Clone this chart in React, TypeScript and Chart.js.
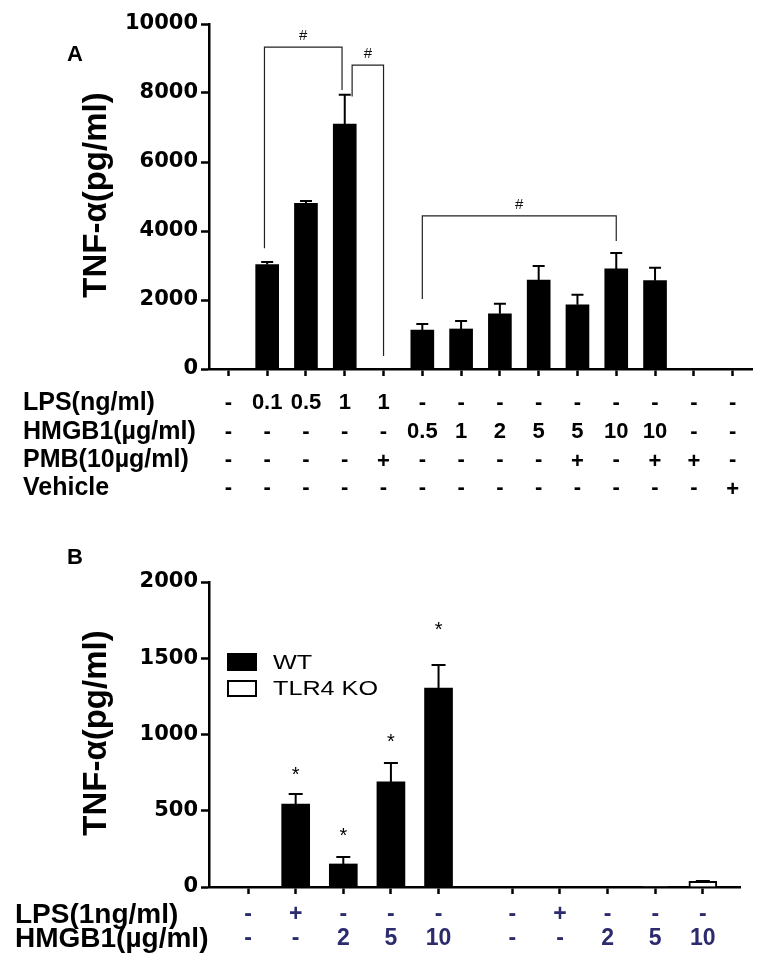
import React, { useEffect, useRef } from 'react';
import { Chart, registerables } from 'chart.js';
Chart.register(...registerables);

// ---------- Panel A data ----------
const aCategories = ['ctrl', 'LPS 0.1', 'LPS 0.5', 'LPS 1', 'LPS 1+PMB', 'HMGB1 0.5', 'HMGB1 1', 'HMGB1 2', 'HMGB1 5', 'HMGB1 5+PMB', 'HMGB1 10', 'HMGB1 10+PMB', 'PMB', 'Vehicle'];
const aValues = [0, 3030, 4800, 7100, 0, 1130, 1160, 1600, 2580, 1860, 2900, 2560, 0, 0];
const aErrors = [0, 70, 70, 850, 0, 175, 230, 290, 405, 290, 460, 375, 0, 0];
const aTicks = [0, 2000, 4000, 6000, 8000, 10000];
const aRowLabels = ['LPS(ng/ml)', 'HMGB1(\u00b5g/ml)', 'PMB(10\u00b5g/ml)', 'Vehicle'];
const aRowLPS = ['-', '0.1', '0.5', '1', '1', '-', '-', '-', '-', '-', '-', '-', '-', '-'];
const aRowHMGB1 = ['-', '-', '-', '-', '-', '0.5', '1', '2', '5', '5', '10', '10', '-', '-'];
const aRowPMB = ['-', '-', '-', '-', '+', '-', '-', '-', '-', '+', '-', '+', '+', '-'];
const aRowVehicle = ['-', '-', '-', '-', '-', '-', '-', '-', '-', '-', '-', '-', '-', '+'];
const bracketFrom = [0.93, 3.19, 5];
const bracketTo = [2.93, 4, 10];
const bracketTop = [9330, 8810, 4440];
const bracketLeftEnd = [3500, 7900, 2030];
const bracketRightEnd = [8090, 380, 3710];

// ---------- Panel B data ----------
const bWTPositions = [1, 2, 3, 4, 5];
const bKOPositions = [6.55, 7.55, 8.55, 9.55, 10.55];
const bWTValues = [0, 544, 151, 689, 1305];
const bWTErrors = [0, 66, 46, 124, 151];
const bKOValues = [0, 0, 0, 3, 37];
const bKOErrors = [0, 0, 0, 0, 3];
const bWTStars = [null, 750, 350, 970, 1700];
const bTicks = [0, 500, 1000, 1500, 2000];
const bRowLabels = ['LPS(1ng/ml)', 'HMGB1(\u00b5g/ml)'];
const bRowLPS = ['-', '+', '-', '-', '-', '-', '+', '-', '-', '-'];
const bRowHMGB1 = ['-', '-', '2', '5', '10', '-', '-', '2', '5', '10'];
const bLegend = ['WT', 'TLR4 KO'];

const SANS = "'Liberation Sans', Arial, Helvetica, sans-serif";
const TICKFONT = { family: "'DejaVu Sans', sans-serif", weight: 'bold' as const, size: 21 };

function txt(ctx: CanvasRenderingContext2D, s: string, x: number, y: number, font: string, color = '#000', align: CanvasTextAlign = 'center', sx = 1, rot = 0) {
  ctx.save();
  ctx.font = font;
  ctx.fillStyle = color;
  ctx.textAlign = align;
  ctx.textBaseline = 'middle';
  ctx.translate(x, y);
  if (rot) ctx.rotate(rot);
  ctx.scale(sx, 1);
  ctx.fillText(s, 0, 0);
  ctx.restore();
}

function drawErrBars(chart: any, dsIndex: number, values: number[], errors: number[], cap: number) {
  const ctx = chart.ctx;
  const ys = chart.scales.y;
  const meta = chart.getDatasetMeta(dsIndex);
  ctx.save();
  ctx.strokeStyle = '#000';
  ctx.lineWidth = 2;
  values.forEach((v, i) => {
    if (!errors[i]) return;
    const el = meta.data[i];
    const x = el.x;
    const y0 = ys.getPixelForValue(v);
    const y1 = ys.getPixelForValue(v + errors[i]);
    ctx.beginPath();
    ctx.moveTo(x, y0);
    ctx.lineTo(x, y1);
    ctx.moveTo(x - cap / 2, y1);
    ctx.lineTo(x + cap / 2, y1);
    ctx.stroke();
  });
  ctx.restore();
}

const axisCommon = {
  grid: { display: true, drawOnChartArea: false, drawTicks: true, tickLength: 8, tickColor: '#000', tickWidth: 2.5, color: '#000', offset: false },
  border: { display: true, color: '#000', width: 2.5 },
};

const plainTick = (v: any) => String(v);

export default function App() {
  const refA = useRef<HTMLCanvasElement>(null);
  const refB = useRef<HTMLCanvasElement>(null);

  useEffect(() => {
    const pluginA = {
      id: 'panelA',
      afterDraw(chart: any) {
        const ctx = chart.ctx;
        const xs = chart.scales.x;
        const ys = chart.scales.y;
        drawErrBars(chart, 0, aValues, aErrors, 12);
        ctx.save();
        ctx.strokeStyle = '#222';
        ctx.lineWidth = 1.2;
        bracketFrom.forEach((f, i) => {
          const x0 = xs.getPixelForValue(f);
          const x1 = xs.getPixelForValue(bracketTo[i]);
          const yt = ys.getPixelForValue(bracketTop[i]);
          ctx.beginPath();
          ctx.moveTo(x0, ys.getPixelForValue(bracketLeftEnd[i]));
          ctx.lineTo(x0, yt);
          ctx.lineTo(x1, yt);
          ctx.lineTo(x1, ys.getPixelForValue(bracketRightEnd[i]));
          ctx.stroke();
          txt(ctx, '#', (x0 + x1) / 2, yt - 11, `15px ${SANS}`, '#111');
        });
        ctx.restore();
        txt(ctx, 'A', 75, 55, `bold 22px ${SANS}`);
        txt(ctx, 'TNF-\u03b1(pg/ml)', 97, 195, `bold 33px ${SANS}`, '#000', 'center', 1, -Math.PI / 2);
        const rows = [aRowLPS, aRowHMGB1, aRowPMB, aRowVehicle];
        const rowY = [403, 432, 460, 488];
        rows.forEach((row, r) => {
          txt(ctx, aRowLabels[r], 23, rowY[r], `bold 25px ${SANS}`, '#000', 'left');
          row.forEach((s, i) => {
            txt(ctx, s, xs.getPixelForValue(i), rowY[r] + (s === '+' ? 2 : 0), `bold 22px ${SANS}`, '#000');
          });
        });
      },
    };

    const chartA = new Chart(refA.current!, {
      type: 'bar',
      data: {
        labels: aCategories,
        datasets: [{ data: aValues, backgroundColor: '#000', borderWidth: 0, barThickness: 23 }],
      },
      options: {
        animation: false,
        responsive: false,
        layout: { padding: { top: 24, left: 0, right: 16, bottom: 131 } },
        plugins: { legend: { display: false }, tooltip: { enabled: false } },
        scales: {
          x: {
            type: 'category',
            offset: true,
            ...axisCommon,
            grid: { ...axisCommon.grid, tickLength: 7 },
            ticks: { display: false },
            afterFit: (s: any) => { s.height = 10; },
          },
          y: {
            min: 0,
            max: 10000,
            ...axisCommon,
            afterBuildTicks: (s: any) => { s.ticks = aTicks.map((v) => ({ value: v })); },
            ticks: { font: TICKFONT, color: '#000', padding: 3, callback: plainTick },
            afterFit: (s: any) => { s.width = 209; },
          },
        },
      },
      plugins: [pluginA],
    } as any);

    const pluginB = {
      id: 'panelB',
      afterDraw(chart: any) {
        const ctx = chart.ctx;
        const xs = chart.scales.x;
        const ys = chart.scales.y;
        drawErrBars(chart, 0, bWTValues, bWTErrors, 14);
        drawErrBars(chart, 1, bKOValues, bKOErrors, 14);
        bWTStars.forEach((s, i) => {
          if (s == null) return;
          txt(ctx, '*', xs.getPixelForValue(bWTPositions[i]), ys.getPixelForValue(s) + 3, `20px ${SANS}`, '#000');
        });
        txt(ctx, 'B', 75, 48, `bold 22px ${SANS}`);
        txt(ctx, 'TNF-\u03b1(pg/ml)', 97, 223, `bold 33px ${SANS}`, '#000', 'center', 1, -Math.PI / 2);
        ctx.save();
        ctx.fillStyle = '#000';
        ctx.fillRect(227, 143, 30, 18);
        ctx.fillStyle = '#fff';
        ctx.strokeStyle = '#000';
        ctx.lineWidth = 2;
        ctx.fillRect(228, 171, 28, 15);
        ctx.strokeRect(228, 171, 28, 15);
        ctx.restore();
        txt(ctx, bLegend[0], 273, 153, `21px ${SANS}`, '#000', 'left', 1.2);
        txt(ctx, bLegend[1], 273, 179, `21px ${SANS}`, '#000', 'left', 1.2);
        const pos = [...bWTPositions, ...bKOPositions];
        const rows = [bRowLPS, bRowHMGB1];
        const rowY = [405, 429];
        rows.forEach((row, r) => {
          txt(ctx, bRowLabels[r], 15, rowY[r], `bold 28px ${SANS}`, '#000', 'left');
          row.forEach((s, i) => {
            txt(ctx, s, xs.getPixelForValue(pos[i]), rowY[r], `bold 23px ${SANS}`, '#2b2b6e');
          });
        });
      },
    };

    const chartB = new Chart(refB.current!, {
      type: 'bar',
      data: {
        datasets: [
          {
            label: bLegend[0],
            data: bWTPositions.map((x, i) => ({ x, y: bWTValues[i] })),
            backgroundColor: '#000',
            borderWidth: 0,
            barThickness: 28,
            grouped: false,
          },
          {
            label: bLegend[1],
            data: bKOPositions.map((x, i) => ({ x, y: bKOValues[i] })),
            backgroundColor: '#fff',
            borderColor: '#000',
            borderWidth: 2,
            barThickness: 28,
            grouped: false,
          },
        ],
      },
      options: {
        animation: false,
        responsive: false,
        layout: { padding: { top: 72, left: 0, right: 28, bottom: 81 } },
        plugins: { legend: { display: false }, tooltip: { enabled: false } },
        scales: {
          x: {
            type: 'linear',
            min: 0.18,
            max: 11.33,
            offset: false,
            ...axisCommon,
            grid: { ...axisCommon.grid, tickLength: 7 },
            afterBuildTicks: (s: any) => { s.ticks = [...bWTPositions, ...bKOPositions].map((v) => ({ value: v })); },
            ticks: { display: false },
            afterFit: (s: any) => { s.height = 10; },
          },
          y: {
            min: 0,
            max: 2000,
            ...axisCommon,
            afterBuildTicks: (s: any) => { s.ticks = bTicks.map((v) => ({ value: v })); },
            ticks: { font: TICKFONT, color: '#000', padding: 3, callback: plainTick },
            afterFit: (s: any) => { s.width = 209; },
          },
        },
      },
      plugins: [pluginB],
    } as any);

    return () => {
      chartA.destroy();
      chartB.destroy();
    };
  }, []);

  return (
    <div style={{ position: 'absolute', left: 0, top: 0, width: 768, height: 978, background: '#fff' }}>
      <canvas ref={refA} width={768} height={510} style={{ position: 'absolute', left: 0, top: 0, width: 768, height: 510 }} />
      <canvas ref={refB} width={768} height={468} style={{ position: 'absolute', left: 0, top: 510, width: 768, height: 468 }} />
    </div>
  );
}
